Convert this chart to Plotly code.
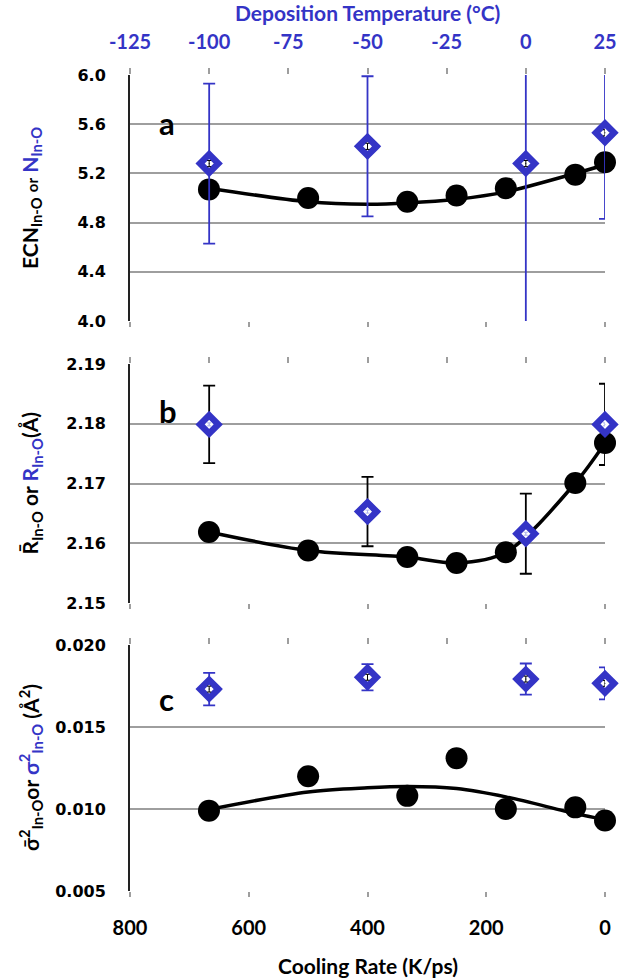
import plotly.graph_objects as go

BLUE = "#3434C6"
GRID = "#9E9E9E"

# cooling rate (K/ps) of the simulated (black) points
cooling_rate = [667, 500, 333, 250, 167, 50, 0]
# deposition temperature (C) of the experimental (blue) points
dep_temp = [-100, -50, 0, 25]

# panel a: coordination number
ecn_sim = [5.07, 5.00, 4.97, 5.02, 5.08, 5.19, 5.29]
n_exp = [5.28, 5.42, 5.28, 5.53]
n_err = [0.65, 0.57, 1.40, 0.70]

# panel b: In-O distance
r_sim = [2.1619, 2.1588, 2.1577, 2.1567, 2.1585, 2.1701, 2.1768]
r_exp = [2.1799, 2.1653, 2.1616, 2.1799]
r_err = [0.0065, 0.0058, 0.0067, 0.0068]

# panel c: Debye-Waller factor
s2_sim = [0.0099, 0.0120, 0.0108, 0.0131, 0.0100, 0.0101, 0.0093]
s2_exp = [0.01731, 0.01803, 0.01792, 0.01766]
s2_err = [0.00099, 0.00080, 0.00095, 0.00098]

# trend lines
trend_rate = [667, 500, 400, 333, 250, 167, 50, 0]
trend_a = [5.08, 4.97, 4.95, 4.96, 4.99, 5.05, 5.20, 5.27]
trend_b = None  # panel b curve follows the points
trend_c = [0.00997, 0.01104, 0.01129, 0.01137, 0.01125, 0.01074, 0.00972, 0.00936]

x_ticks = [0, 200, 400, 600, 800]
t_ticks = [-125, -100, -75, -50, -25, 0, 25]

fig = go.Figure()

panels = [
    ("", ecn_sim, trend_a, n_exp, n_err, BLUE, 0.025, "black"),
    ("2", r_sim, trend_b, r_exp, r_err, "black", 0.00025, "#A9B0EA"),
    ("3", s2_sim, trend_c, s2_exp, s2_err, BLUE, 0.00018, "black"),
]
top_ids = {"": "4", "2": "5", "3": "6"}

for sfx, sim, trend, exp, err, errcol, inner, innercol in panels:
    xa = "x" + sfx
    ya = "y" + sfx
    xt = "x" + top_ids[sfx]
    if trend is None:
        tx, ty = cooling_rate, sim
    else:
        tx, ty = trend_rate, trend
    fig.add_trace(go.Scatter(x=tx, y=ty, mode="lines",
                             line=dict(color="black", width=3.5, shape="spline", smoothing=0.9),
                             xaxis=xa, yaxis=ya, showlegend=False, hoverinfo="skip"))
    fig.add_trace(go.Scatter(x=cooling_rate, y=sim, mode="markers", marker=dict(color="black", size=22),
                             xaxis=xa, yaxis=ya, showlegend=False, cliponaxis=False))
    # error bars (clipped to the panel)
    fig.add_trace(go.Scatter(x=dep_temp, y=exp, mode="markers", marker=dict(size=1, color=errcol, opacity=0),
                             error_y=dict(type="data", array=err, color=errcol, thickness=1.8, width=6),
                             xaxis=xt, yaxis=ya, showlegend=False, hoverinfo="skip", cliponaxis=True))
    # diamonds
    fig.add_trace(go.Scatter(x=dep_temp, y=exp, mode="markers",
                             marker=dict(symbol="diamond", size=14, color="white", line=dict(color=BLUE, width=6.5)),
                             xaxis=xt, yaxis=ya, showlegend=False, cliponaxis=False))
    # tiny marks inside the diamonds
    fig.add_trace(go.Scatter(x=dep_temp, y=exp, mode="markers", marker=dict(size=1, color=innercol),
                             error_y=dict(type="data", array=[inner] * 4, color=innercol, thickness=1, width=2),
                             xaxis=xt, yaxis=ya, showlegend=False, hoverinfo="skip", cliponaxis=False))

doms = [[0.6985, 1.0], [0.3529, 0.6458], [0.0, 0.3015]]
yranges = [[4.0, 6.0], [2.15, 2.19], [0.005, 0.020]]
ytick = [[4.0, 4.4, 4.8, 5.2, 5.6, 6.0], [2.15, 2.16, 2.17, 2.18, 2.19], [0.005, 0.010, 0.015, 0.020]]
yfmt = [".1f", ".2f", ".3f"]
right_ticks = [[4.5, 5.0, 5.5], [2.1635], [0.0080, 0.0110, 0.0140]]

layout = dict(
    width=620, height=978, plot_bgcolor="white", paper_bgcolor="white",
    margin=dict(l=130, r=15, t=75, b=87, autoexpand=False),
    font=dict(family="Lato", color="black"),
)
for i, sfx in enumerate(["", "2", "3"]):
    n = i + 1
    layout["xaxis" + sfx] = dict(
        domain=[0, 1], anchor="y" + sfx, range=[800, 0], tickvals=x_ticks,
        ticktext=["<b>%d</b>" % v for v in x_ticks],
        showticklabels=(n == 3), ticks="outside", ticklen=5, tickcolor=GRID, tickwidth=2,
        ticklabelstandoff=14, automargin=False,
        showgrid=False, zeroline=False, showline=False,
        tickfont=dict(family="Lato", size=20, color="black"),
    )
    layout["xaxis" + top_ids[sfx]] = dict(
        overlaying="x" + sfx, anchor="y" + sfx, side="top", range=[-125, 25], tickvals=t_ticks,
        ticktext=["<b>%d</b>" % t for t in t_ticks],
        showticklabels=(n == 1), ticks="outside", ticklen=6, tickcolor=GRID, tickwidth=2,
        ticklabelstandoff=11, automargin=False,
        showgrid=False, zeroline=False, showline=False,
        tickfont=dict(family="Lato", size=20, color=BLUE),
    )
    layout["yaxis" + sfx] = dict(
        domain=doms[i], anchor="x" + sfx, range=yranges[i], tickvals=ytick[i],
        ticktext=["<b>" + format(v, yfmt[i]) + "</b>" for v in ytick[i]],
        tickfont=dict(family="DejaVu Sans", size=16, color="black"), ticks="", ticklabelstandoff=19,
        showgrid=True, gridcolor=GRID, gridwidth=2, zeroline=False, automargin=False,
        showline=True, linecolor="#222222", linewidth=2,
    )
    layout["yaxis" + str(7 + i)] = dict(
        overlaying="y" + sfx, anchor="x" + sfx, side="right", range=yranges[i], tickvals=right_ticks[i],
        showticklabels=False, ticks="inside", ticklen=5, tickcolor=GRID, tickwidth=1.5,
        showgrid=False, zeroline=False, showline=True, linecolor=GRID, linewidth=2, automargin=False,
    )
fig.update_layout(**layout)

# axis titles
fig.add_annotation(text="<b>Deposition Temperature (°C)</b>", xref="paper", yref="paper", x=0.5,
                   y=(891 - 12) / 816, showarrow=False, yanchor="middle",
                   font=dict(family="Lato", size=21, color=BLUE))
fig.add_annotation(text="<b>Cooling Rate (K/ps)</b>", xref="paper", yref="paper", x=0.5,
                   y=(891 - 966) / 816, showarrow=False, yanchor="middle",
                   font=dict(family="Lato", size=21, color="black"))

titles = [
    "<b>ECN<sub>In-O</sub> <span style='font-size:15px'>or</span> <span style='color:%s'>N<sub>In-O</sub></span></b>" % BLUE,
    "<b>R\u0304<sub>In-O</sub> or <span style='color:%s'>R<sub>In-O</sub></span>(Å)</b>" % BLUE,
    "<b>σ\u0304<sup>2</sup><sub>In-O</sub>or <span style='color:%s'>σ<sup>2</sup><sub>In-O</sub></span> (Å<sup>2</sup>)</b>" % BLUE,
]
for i, t in enumerate(titles):
    fig.add_annotation(text=t, textangle=-90, xref="paper", yref="paper", x=(31 - 130) / 475,
                       y=sum(doms[i]) / 2, showarrow=False, font=dict(family="Lato", size=21, color="black"),
                       xanchor="center", yanchor="middle")

for lab, sfx, yy in [("a", "", 0.89), ("b", "2", 0.89), ("c", "3", 0.866)]:
    fig.add_annotation(text="<b>%s</b>" % lab, xref="x%s domain" % sfx, yref="y%s domain" % sfx,
                       x=0.057, y=yy, showarrow=False, font=dict(family="Lato", size=31, color="black"))

fig.write_html("out.html", config={"displayModeBar": False},
               post_script="document.body.style.margin='0';")
